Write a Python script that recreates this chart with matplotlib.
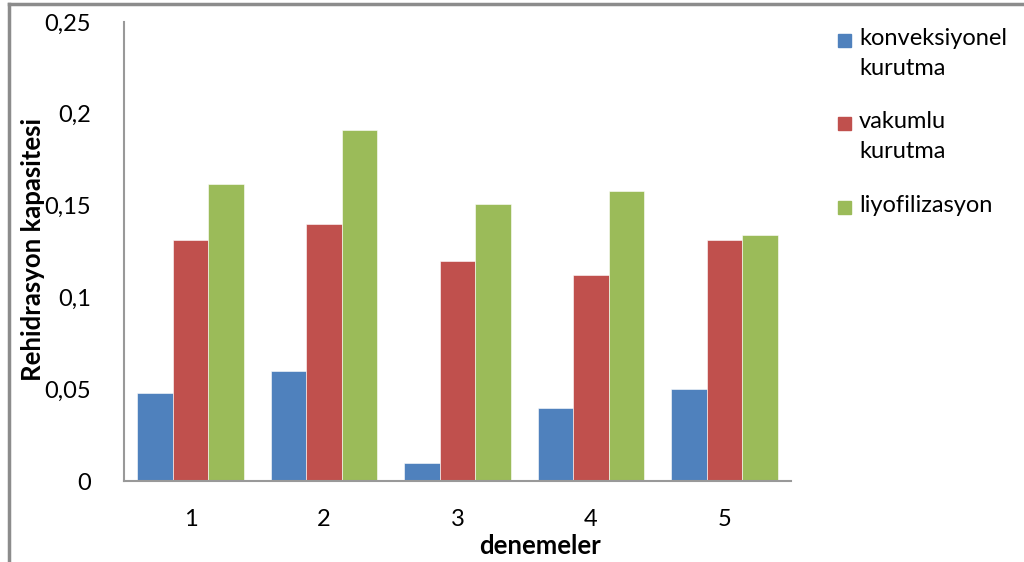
import numpy as np
import matplotlib.pyplot as plt
from matplotlib.lines import Line2D
from matplotlib.patches import Rectangle

plt.rcParams['font.family'] = ['Lato', 'DejaVu Sans']

# data
categories = ['1', '2', '3', '4', '5']
series_names = ['konveksiyonel\nkurutma', 'vakumlu\nkurutma', 'liyofilizasyon']
konveksiyonel = [0.048, 0.060, 0.010, 0.040, 0.050]
vakumlu = [0.131, 0.140, 0.120, 0.112, 0.131]
liyofilizasyon = [0.162, 0.191, 0.151, 0.158, 0.134]
y_ticks = [0, 0.05, 0.1, 0.15, 0.2, 0.25]
y_tick_labels = ['0', '0,05', '0,1', '0,15', '0,2', '0,25']

colors = ['#4F81BD', '#C0504D', '#9BBB59']
W, H = 1024, 562

fig = plt.figure(figsize=(W / 100, H / 100), dpi=100)
ax = fig.add_axes([124 / W, 1 - 481 / H, (791 - 124) / W, (481 - 22) / H])

x = np.arange(len(categories))
bw = 1 / 3.75
for i, vals in enumerate([konveksiyonel, vakumlu, liyofilizasyon]):
    ax.bar(x + (i - 1) * bw, vals, width=bw, color=colors[i],
           edgecolor='white', linewidth=0.4)

ax.set_xlim(-0.5, len(categories) - 0.5)
ax.set_ylim(0, 0.25)
ax.set_yticks(y_ticks)
ax.set_yticklabels(y_tick_labels)
ax.set_xticks(x)
ax.set_xticklabels(categories)
ax.tick_params(axis='y', length=0, pad=24, labelsize=17)
ax.tick_params(axis='x', length=0, pad=20, labelsize=17)

for s in ['top', 'right']:
    ax.spines[s].set_visible(False)
for s in ['left', 'bottom']:
    ax.spines[s].set_color('#999999')
    ax.spines[s].set_linewidth(1.5)

fig.text(33 / W, 1 - 249 / H, 'Rehidrasyon kapasitesi', fontsize=18.5,
         fontweight='bold', rotation=90, ha='center', va='center')
fig.text(540 / W, 1 - 546 / H, 'denemeler', fontsize=18.5, fontweight='bold',
         ha='center', va='center')

# legend drawn by hand so that swatches sit on the first text line
legend_y = [40, 123, 207]
for name, c, yy in zip(series_names, colors, legend_y):
    fig.patches.append(Rectangle((838 / W, 1 - (yy + 7) / H), 13 / W, 13 / H,
                                 transform=fig.transFigure, color=c))
    fig.text(859 / W, 1 - (yy - 12) / H, name, fontsize=17, ha='left', va='top',
             linespacing=1.55)

# outer frame (only top and left edges visible in the reference)
fig.add_artist(Line2D([9 / W, 1], [1 - 4 / H, 1 - 4 / H], transform=fig.transFigure,
                      color='#8c8c8c', linewidth=2.5))
fig.add_artist(Line2D([9 / W, 9 / W], [0, 1 - 4 / H], transform=fig.transFigure,
                      color='#8c8c8c', linewidth=2.5))

fig.savefig('out.png', dpi=100)
